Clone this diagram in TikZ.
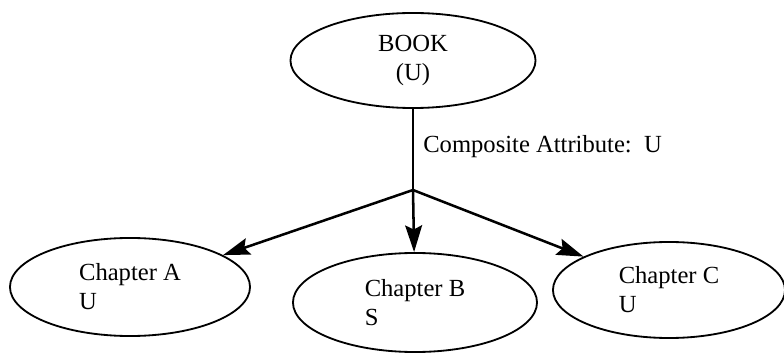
\documentclass[tikz,border=0pt]{standalone}
\usepackage{fontspec}
\setmainfont{Liberation Serif}
\usetikzlibrary{shapes.geometric,arrows.meta}

\tikzset{
  entity/.style={draw, ellipse, line width=1.3pt, inner sep=0pt,
    font=\fontsize{17.5}{20.6}\selectfont},
  link/.style={line width=1.8pt},
  arrowlink/.style={link, -{Stealth[length=19pt,width=12pt,inset=3pt]}}
}

\begin{document}
\begin{tikzpicture}[x=0.025cm, y=-0.025cm]
  \useasboundingbox (0,0) rectangle (784,354);

  \node[entity, align=center, minimum width=6.125cm, minimum height=2.375cm] (book) at (413,60.5) {BOOK\\(U)};

  \node[entity, align=left, minimum width=6cm, minimum height=2.45cm] (chapA) at (130,287) {Chapter A\\U};
  \node[entity, align=left, minimum width=6.1cm, minimum height=2.475cm] (chapB) at (415,302.5) {Chapter B\\S};
  \node[entity, align=left, minimum width=5.8cm, minimum height=2.4cm] (chapC) at (669,290) {Chapter C\\U};

  \coordinate (split) at (413,190);
  \draw[link] (book.south) -- (split);
  \node[anchor=base west, inner sep=0pt, font=\fontsize{17.5}{20.6}\selectfont] (attr) at (423,153) {Composite Attribute:\ \ U};

  \draw[arrowlink] (split) -- (chapA);
  \draw[arrowlink] (split) -- (chapB);
  \draw[arrowlink] (split) -- (chapC);

\end{tikzpicture}
\end{document}
